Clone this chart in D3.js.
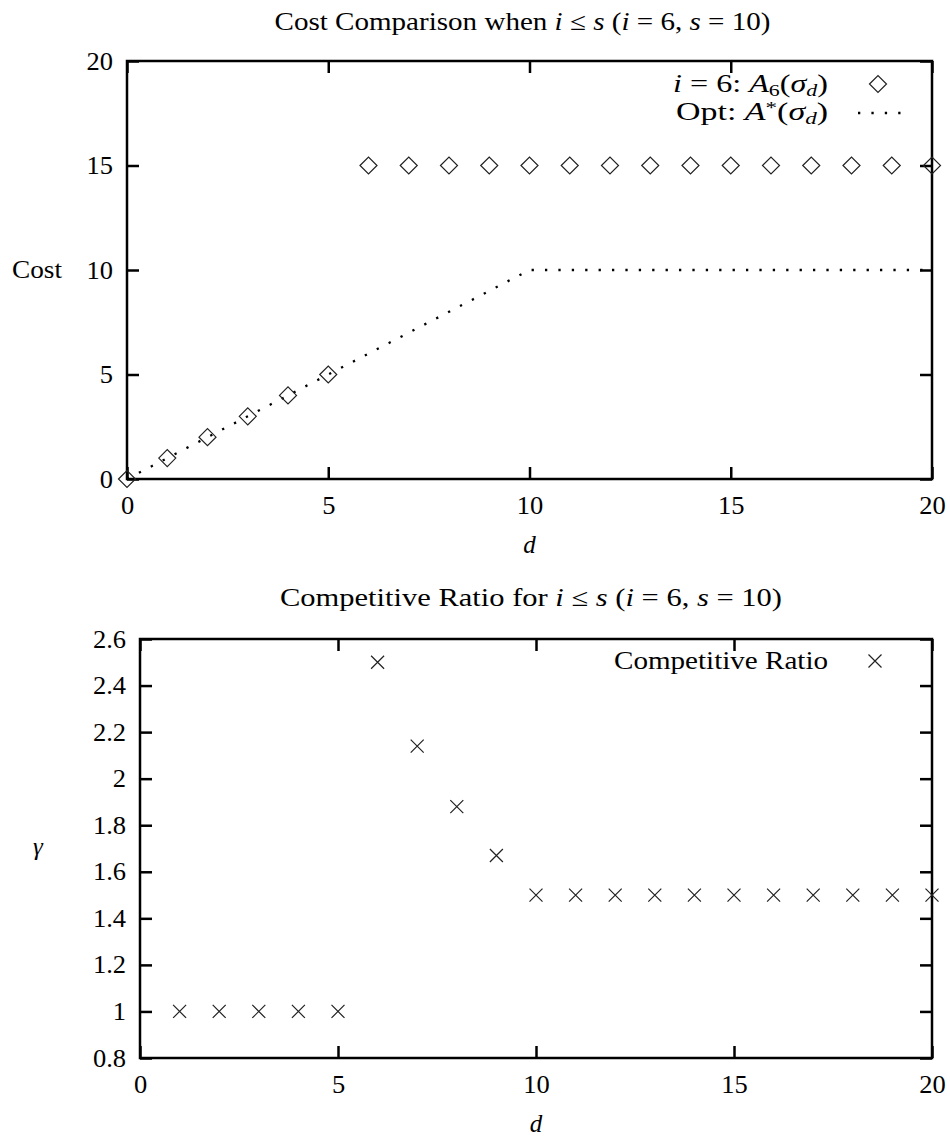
<!DOCTYPE html>
<html>
<head>
<meta charset="utf-8">
<script src="https://cdn.jsdelivr.net/npm/d3@7"></script>
<style>
  body { margin: 0; background: #fff; }
  svg { display: block; }
</style>
</head>
<body>
<div id="chart"></div>
<script>
// data
var costD      = [0, 1, 2, 3, 4, 5, 6, 7, 8, 9, 10, 11, 12, 13, 14, 15, 16, 17, 18, 19, 20];
var costA6     = [0, 1, 2, 3, 4, 5, 15, 15, 15, 15, 15, 15, 15, 15, 15, 15, 15, 15, 15, 15, 15];
var costOpt    = [0, 1, 2, 3, 4, 5, 6, 7, 8, 9, 10, 10, 10, 10, 10, 10, 10, 10, 10, 10, 10];
var ratioD     = [1, 2, 3, 4, 5, 6, 7, 8, 9, 10, 11, 12, 13, 14, 15, 16, 17, 18, 19, 20];
var ratioVal   = [1, 1, 1, 1, 1, 2.5, 2.14, 1.88, 1.67, 1.5, 1.5, 1.5, 1.5, 1.5, 1.5, 1.5, 1.5, 1.5, 1.5, 1.5];
var xTicks     = [0, 5, 10, 15, 20];
var costTicks  = [0, 5, 10, 15, 20];
var ratioTicks = [0.8, 1, 1.2, 1.4, 1.6, 1.8, 2, 2.2, 2.4, 2.6];

var FONT = "'Liberation Serif', 'Times New Roman', 'DejaVu Serif', serif";
var W = 950, H = 1137;
var svg = d3.select("#chart").append("svg")
    .attr("width", W)
    .attr("height", H)
    .attr("font-family", FONT)
    .style("font-family", FONT);

var tick = 12;

// frame + inward ticks on all four sides
var drawFrame = function(g, x, y, w, h, xt, yt, yfmt) {
  g.append("g")
    .attr("transform", "translate(0," + h + ")")
    .call(d3.axisBottom(x).tickValues(xt).tickSizeInner(-tick).tickSizeOuter(0).tickPadding(17.5));
  g.append("g")
    .call(d3.axisTop(x).tickValues(xt).tickSizeInner(-tick).tickSizeOuter(0).tickFormat(""));
  g.append("g")
    .call(d3.axisLeft(y).tickValues(yt).tickSizeInner(-tick).tickSizeOuter(0).tickPadding(14).tickFormat(yfmt));
  g.append("g")
    .attr("transform", "translate(" + w + ",0)")
    .call(d3.axisRight(y).tickValues(yt).tickSizeInner(-tick).tickSizeOuter(0).tickFormat(""));
  g.selectAll(".domain").remove();
  g.selectAll(".tick line").attr("stroke", "#000").attr("stroke-width", 2.5);
  g.selectAll("g").attr("font-family", FONT).attr("font-size", 25);
  g.selectAll(".tick text").attr("fill", "#000").style("font-family", FONT)
    .attr("textLength", function() { return this.getComputedTextLength() * 1.06; })
    .attr("lengthAdjust", "spacingAndGlyphs");
  g.append("rect")
    .attr("width", w).attr("height", h)
    .attr("fill", "none").attr("stroke", "#000").attr("stroke-width", 2.5);
};

var label = function(x, y, parent) {
  return (parent || svg).append("text")
    .attr("x", x).attr("y", y)
    .attr("font-size", 25)
    .style("font-family", FONT)
    .attr("fill", "#000");
};

// stretch text to the width it has in the picture (CM fonts run wider)
var fit = function(sel, len) {
  sel.attr("textLength", len).attr("lengthAdjust", "spacingAndGlyphs");
  return sel;
};

var mathText = function(sel, parts) {
  parts.forEach(function(p) {
    var t = sel.append("tspan").text(p[0]);
    if (p[1] == "i") t.attr("font-style", "italic");
    if (p[1] == "sub") t.attr("font-size", 17).attr("baseline-shift", "-22%");
    if (p[1] == "isub") t.attr("font-size", 17).attr("font-style", "italic").attr("baseline-shift", "-22%");
    if (p[1] == "sup") t.attr("font-size", 17).attr("baseline-shift", "40%");
  });
  return sel;
};

var diamond = function(g, cx, cy, r) {
  g.append("path")
    .attr("d", "M" + (cx - r) + "," + cy + "L" + cx + "," + (cy - r) + "L" + (cx + r) + "," + cy + "L" + cx + "," + (cy + r) + "Z")
    .attr("fill", "none").attr("stroke", "#222").attr("stroke-width", 1.2);
};
var cross = function(g, cx, cy, r) {
  g.append("path")
    .attr("d", "M" + (cx - r) + "," + (cy - r) + "L" + (cx + r) + "," + (cy + r) + "M" + (cx - r) + "," + (cy + r) + "L" + (cx + r) + "," + (cy - r))
    .attr("fill", "none").attr("stroke", "#222").attr("stroke-width", 1.2);
};

// ---------- top chart: cost comparison ----------
var m1 = { left: 127, top: 61, right: 932, bottom: 479 };
var w1 = m1.right - m1.left, h1 = m1.bottom - m1.top;
var g1 = svg.append("g").attr("transform", "translate(" + m1.left + "," + m1.top + ")");

var x1 = d3.scaleLinear().domain([0, 20]).range([0, w1]);
var y1 = d3.scaleLinear().domain([0, 20]).range([h1, 0]);

drawFrame(g1, x1, y1, w1, h1, xTicks, costTicks, d3.format("d"));

var optLine = d3.line()
  .x(function(d, i) { return x1(costD[i]); })
  .y(function(d) { return y1(d); });

g1.append("path")
  .attr("d", optLine(costOpt))
  .attr("fill", "none").attr("stroke", "#000")
  .attr("stroke-width", 2.3).attr("stroke-dasharray", "2.3 11.1");

costA6.forEach(function(v, i) { diamond(g1, x1(costD[i]), y1(v), 8.5); });

// legend (right edge of text at x=828 in page coords)
var l1 = label(701, 31, g1).attr("text-anchor", "end");
mathText(l1, [["i", "i"], [" = 6:  "], ["A", "i"], ["6", "sub"], ["("], ["σ", "i"], ["d", "isub"], [")"]]);
fit(l1, 155);
diamond(g1, 751, 23, 8.5);
var l2 = label(701, 59, g1).attr("text-anchor", "end");
mathText(l2, [["Opt:  "], ["A", "i"], ["*", "sup"], ["("], ["σ", "i"], ["d", "isub"], [")"]]);
fit(l2, 152);
g1.append("path")
  .attr("d", d3.line()([[731, 52], [781, 52]]))
  .attr("stroke", "#000").attr("stroke-width", 2.3).attr("stroke-dasharray", "2.3 11.1");

// titles and axis labels
var t1 = label((m1.left + m1.right) / 2 - 7, 30).attr("text-anchor", "middle");
mathText(t1, [["Cost Comparison when "], ["i", "i"], [" ≤ "], ["s", "i"], [" ("], ["i", "i"], [" = 6, "], ["s", "i"], [" = 10)"]]);
fit(t1, 496);

fit(label(37, 278).attr("text-anchor", "middle").text("Cost"), 50);
label((m1.left + m1.right) / 2, 553).attr("text-anchor", "middle").attr("font-style", "italic").text("d");

// ---------- bottom chart: competitive ratio ----------
var m2 = { left: 140, top: 639, right: 932, bottom: 1058 };
var w2 = m2.right - m2.left, h2 = m2.bottom - m2.top;
var g2 = svg.append("g").attr("transform", "translate(" + m2.left + "," + m2.top + ")");

var x2 = d3.scaleLinear().domain([0, 20]).range([0, w2]);
var y2 = d3.scaleLinear().domain([0.8, 2.6]).range([h2, 0]);

drawFrame(g2, x2, y2, w2, h2, xTicks, ratioTicks, function(d) { return d3.format("~g")(d); });

ratioVal.forEach(function(v, i) { cross(g2, x2(ratioD[i]), y2(v), 6.5); });

fit(label(688, 30, g2).attr("text-anchor", "end").text("Competitive Ratio"), 214);
cross(g2, 735, 22, 6.5);

var t2 = label((m2.left + m2.right) / 2 - 5, 606).attr("text-anchor", "middle");
mathText(t2, [["Competitive Ratio for "], ["i", "i"], [" ≤ "], ["s", "i"], [" ("], ["i", "i"], [" = 6, "], ["s", "i"], [" = 10)"]]);
fit(t2, 502);

label(38, 855).attr("text-anchor", "middle").attr("font-style", "italic").text("γ");
label((m2.left + m2.right) / 2, 1132).attr("text-anchor", "middle").attr("font-style", "italic").text("d");
</script>
</body>
</html>
